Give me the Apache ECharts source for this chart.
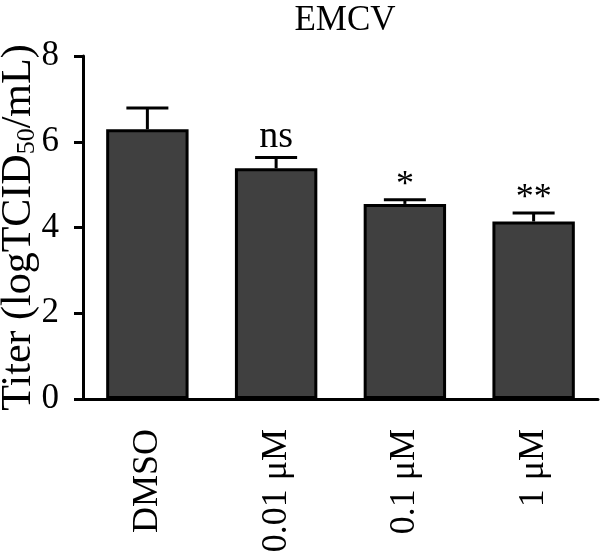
<!DOCTYPE html>
<html>
<head>
<meta charset="utf-8">
<script src="https://cdn.jsdelivr.net/npm/echarts@6/dist/echarts.min.js"></script>
<style>html,body{margin:0;padding:0;background:#fff}#c{width:600px;height:552px}</style>
</head>
<body>
<div id="c"></div>
<script>
const categories = ['DMSO', '0.01 μM', '0.1 μM', '1 μM'];
const means = [6.29, 5.38, 4.55, 4.14];
const errors = [0.50, 0.25, 0.10, 0.20];
const annotations = ['', 'ns', '*', '**'];
const yTicks = [0, 2, 4, 6, 8];

const FONT = 'Liberation Serif';
const chart = echarts.init(document.getElementById('c'), null, {renderer: 'canvas'});
const errData = means.map((m, i) => [i, m, errors[i]]);

chart.setOption({
  animation: false,
  backgroundColor: '#fff',
  title: {
    text: 'EMCV', left: 340, top: -2, textAlign: 'center',
    textStyle: {fontFamily: FONT, fontSize: 35, fontWeight: 'normal', color: '#000'}
  },
  grid: {left: 83, right: 2, top: 56, bottom: 153, containLabel: false, outerBoundsMode: 'none'},
  xAxis: {
    type: 'category', data: categories,
    axisLine: {lineStyle: {color: '#000', width: 3}},
    axisTick: {alignWithLabel: true, length: 10, lineStyle: {color: '#000', width: 3}},
    axisLabel: {rotate: 90, margin: 30, fontFamily: FONT, fontSize: 36, color: '#000'}
  },
  yAxis: {
    type: 'value', min: yTicks[0], max: yTicks[yTicks.length - 1], interval: 2,
    name: '{a|Titer (logTCID}{b|50}{a|/mL)}',
    nameLocation: 'middle', nameGap: 43, nameRotate: 90, nameMoveOverlap: false,
    nameTextStyle: {
      fontFamily: FONT, color: '#000',
      rich: {
        a: {fontFamily: FONT, fontSize: 42, color: '#000', lineHeight: 42, verticalAlign: 'bottom'},
        b: {fontFamily: FONT, fontSize: 26, color: '#000', lineHeight: 31, verticalAlign: 'bottom'}
      }
    },
    splitLine: {show: false},
    axisLine: {show: true, lineStyle: {color: '#000', width: 3}},
    axisTick: {show: true, length: 9, lineStyle: {color: '#000', width: 3}},
    axisLabel: {margin: 24, fontFamily: FONT, fontSize: 35, color: '#000'}
  },
  series: [
    {
      type: 'bar', data: means, barWidth: '64%',
      itemStyle: {color: '#404040', borderColor: '#000', borderWidth: 3}
    },
    {
      type: 'custom', data: errData, z: 5,
      renderItem: function (params, api) {
        const i = api.value(0), m = api.value(1), e = api.value(2);
        const base = api.coord([i, m]);
        const top = api.coord([i, m + e]);
        const half = 21;
        const children = [
          {type: 'line', shape: {x1: base[0], y1: base[1], x2: top[0], y2: top[1]}, style: {stroke: '#000', lineWidth: 3}},
          {type: 'line', shape: {x1: top[0] - half, y1: top[1], x2: top[0] + half, y2: top[1]}, style: {stroke: '#000', lineWidth: 3}}
        ];
        const lab = annotations[params.dataIndex];
        if (lab) {
          const isStar = lab.indexOf('*') >= 0;
          children.push({
            type: 'text',
            style: {
              text: lab, x: top[0], y: top[1] - (isStar ? -4 : 2),
              align: 'center', verticalAlign: 'bottom',
              font: (isStar ? '36px ' : '38px ') + '"' + FONT + '"', fill: '#000'
            }
          });
        }
        return {type: 'group', children: children};
      }
    }
  ]
});
</script>
</body>
</html>
